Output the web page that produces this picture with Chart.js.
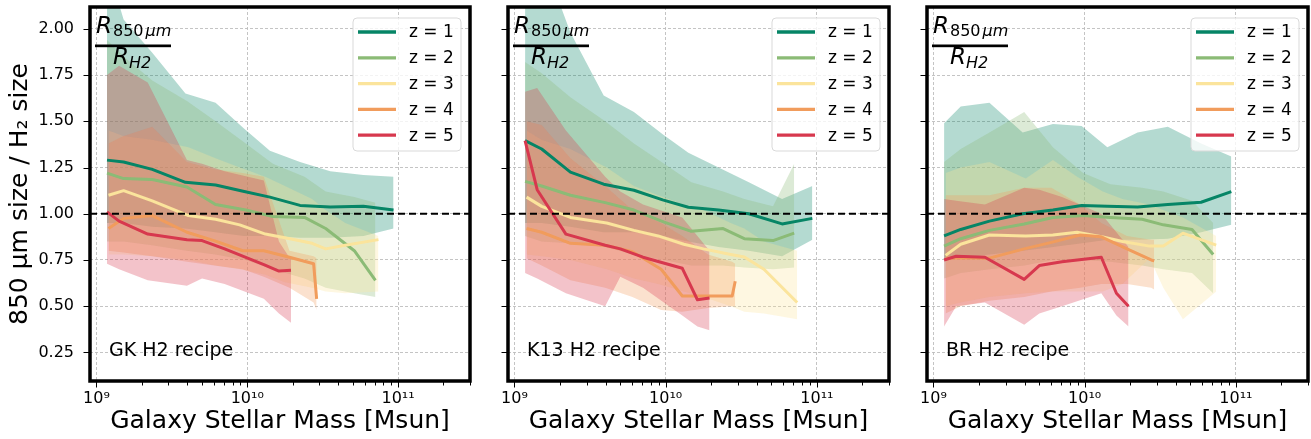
<!DOCTYPE html>
<html>
<head>
<meta charset="utf-8">
<script src="https://cdn.jsdelivr.net/npm/chart.js@4.4.0/dist/chart.umd.min.js"></script>
<style>
  html, body { margin: 0; padding: 0; background: #fff; }
  #wrap { position: relative; width: 1311px; height: 439px; overflow: hidden; }
  canvas { position: absolute; top: 0; }
</style>
</head>
<body>
<div id="wrap">
  <canvas id="chart-gk" width="476" height="439" style="left:0px"></canvas>
  <canvas id="chart-k13" width="419" height="439" style="left:476px"></canvas>
  <canvas id="chart-br" width="416" height="439" style="left:895px"></canvas>
</div>
<script>
// ---- Data (log10 stellar mass bins, ratio R850 / RH2) ----
const zLabels = ['z = 1', 'z = 2', 'z = 3', 'z = 4', 'z = 5'];
const lineColors = ['#068566', '#8bbb76', '#fbe49c', '#f19c5c', '#d7384e'];

const massBins = [
  [9.07, 9.18, 9.37, 9.59, 9.79, 9.98, 10.15, 10.35, 10.55, 10.77, 10.97],
  [9.07, 9.18, 9.37, 9.60, 9.79, 9.99, 10.17, 10.38, 10.52, 10.71, 10.85],
  [9.08, 9.18, 9.37, 9.61, 9.79, 9.95, 10.12, 10.25, 10.43, 10.52, 10.65, 10.87],
  [9.08, 9.18, 9.37, 9.60, 9.78, 9.97, 10.11, 10.28, 10.44, 10.46],
  [9.07, 9.15, 9.34, 9.60, 9.70, 9.85, 10.11, 10.21, 10.29]
];

// GK H2 recipe
const gkMedian = [
  [1.29, 1.28, 1.24, 1.17, 1.155, 1.12, 1.09, 1.045, 1.037, 1.04, 1.02],
  [1.22, 1.19, 1.185, 1.145, 1.05, 1.02, 0.985, 0.98, 0.92, 0.80, 0.64],
  [1.10, 1.125, 1.07, 0.99, 0.97, 0.94, 0.89, 0.87, 0.84, 0.81, 0.83, 0.86],
  [0.92, 0.975, 0.99, 0.90, 0.855, 0.80, 0.80, 0.765, 0.73, 0.54],
  [1.01, 0.96, 0.89, 0.86, 0.855, 0.81, 0.725, 0.69, 0.695]
];
const gkHigh = [
  [2.35, 2.05, 1.87, 1.65, 1.60, 1.46, 1.34, 1.28, 1.23, 1.21, 1.20],
  [1.94, 1.85, 1.72, 1.61, 1.50, 1.38, 1.27, 1.20, 1.12, 1.09, 1.06],
  [1.45, 1.42, 1.40, 1.36, 1.30, 1.25, 1.20, 1.15, 1.08, 1.02, 0.95, 0.88],
  [1.38, 1.42, 1.47, 1.28, 1.24, 1.22, 1.20, 0.80, 0.77, 0.76],
  [1.75, 1.80, 1.71, 1.29, 1.27, 1.23, 1.18, 0.85, 0.75]
];
const gkLow = [
  [0.95, 0.95, 0.93, 0.92, 0.90, 0.88, 0.88, 0.87, 0.87, 0.88, 0.92],
  [0.85, 0.85, 0.83, 0.80, 0.78, 0.75, 0.70, 0.65, 0.60, 0.57, 0.55],
  [0.78, 0.78, 0.77, 0.75, 0.72, 0.70, 0.67, 0.63, 0.60, 0.58, 0.57, 0.58],
  [0.80, 0.79, 0.77, 0.74, 0.72, 0.70, 0.66, 0.60, 0.52, 0.48],
  [0.73, 0.70, 0.64, 0.61, 0.65, 0.62, 0.54, 0.46, 0.41]
];

// K13 H2 recipe
const k13Median = [
  [1.395, 1.35, 1.225, 1.16, 1.127, 1.075, 1.035, 1.02, 1.0, 0.945, 0.975],
  [1.175, 1.15, 1.10, 1.06, 1.02, 0.955, 0.905, 0.92, 0.865, 0.855, 0.895],
  [1.09, 1.04, 0.98, 0.95, 0.91, 0.88, 0.835, 0.81, 0.78, 0.766, 0.70, 0.52],
  [0.92, 0.90, 0.84, 0.83, 0.795, 0.70, 0.555, 0.555, 0.555, 0.635],
  [1.395, 1.13, 0.89, 0.83, 0.81, 0.765, 0.705, 0.535, 0.545]
];
const k13High = [
  [2.6, 2.4, 1.98, 1.64, 1.55, 1.43, 1.33, 1.25, 1.17, 1.08, 1.15],
  [1.82, 1.76, 1.63, 1.50, 1.38, 1.27, 1.17, 1.12, 1.08, 1.04, 1.27],
  [1.45, 1.40, 1.35, 1.25, 1.15, 1.10, 1.05, 1.02, 0.95, 0.92, 0.85, 0.80],
  [1.50, 1.48, 1.30, 1.15, 1.02, 0.95, 0.88, 0.78, 0.74, 0.73],
  [1.66, 1.68, 1.45, 1.20, 1.12, 1.05, 0.98, 0.88, 0.80]
];
const k13Low = [
  [0.95, 0.95, 0.93, 0.90, 0.90, 0.88, 0.85, 0.82, 0.80, 0.77, 0.86],
  [0.88, 0.85, 0.84, 0.82, 0.78, 0.75, 0.72, 0.72, 0.71, 0.70, 0.71],
  [0.78, 0.77, 0.75, 0.70, 0.65, 0.62, 0.58, 0.55, 0.50, 0.47, 0.46, 0.43],
  [0.76, 0.72, 0.64, 0.60, 0.55, 0.48, 0.47, 0.49, 0.50, 0.50],
  [0.68, 0.65, 0.57, 0.50, 0.66, 0.60, 0.45, 0.39, 0.37]
];

// BR H2 recipe
const brMedian = [
  [0.88, 0.915, 0.96, 1.0, 1.02, 1.045, 1.04, 1.037, 1.05, 1.062, 1.12],
  [0.825, 0.865, 0.91, 0.945, 0.98, 0.99, 0.98, 0.97, 0.94, 0.915, 0.78],
  [0.775, 0.835, 0.885, 0.88, 0.885, 0.90, 0.875, 0.85, 0.825, 0.825, 0.895, 0.83],
  [0.76, 0.762, 0.76, 0.81, 0.845, 0.885, 0.875, 0.81, 0.75, 0.745],
  [0.75, 0.77, 0.765, 0.645, 0.72, 0.74, 0.765, 0.57, 0.50]
];
const brHigh = [
  [1.49, 1.58, 1.60, 1.44, 1.485, 1.475, 1.36, 1.44, 1.47, 1.38, 1.31],
  [1.28, 1.35, 1.44, 1.55, 1.36, 1.22, 1.16, 1.14, 1.12, 1.07, 0.95],
  [1.22, 1.25, 1.28, 1.19, 1.29, 1.20, 1.12, 1.08, 1.05, 1.02, 0.98, 0.88],
  [1.10, 1.10, 1.10, 1.14, 1.14, 1.05, 0.95, 0.88, 0.86, 0.86],
  [1.08, 1.07, 1.05, 1.14, 1.13, 1.09, 1.00, 0.90, 0.82]
];
const brLow = [
  [0.75, 0.76, 0.78, 0.80, 0.82, 0.84, 0.86, 0.86, 0.865, 0.90, 0.94],
  [0.65, 0.68, 0.70, 0.72, 0.75, 0.75, 0.74, 0.72, 0.70, 0.68, 0.57],
  [0.50, 0.52, 0.55, 0.57, 0.58, 0.58, 0.58, 0.62, 0.76, 0.60, 0.43, 0.58],
  [0.46, 0.50, 0.53, 0.55, 0.58, 0.60, 0.62, 0.62, 0.60, 0.59],
  [0.39, 0.50, 0.52, 0.40, 0.46, 0.50, 0.57, 0.45, 0.39]
];

// ---- Axes ----
const xMin = 9.06e8, xMax = 3.0e11;
const yMin = 0.0956, yMax = 2.118;
const yTicks = [0.25, 0.50, 0.75, 1.00, 1.25, 1.50, 1.75, 2.00];
const xTicks = [1e9, 2e9, 3e9, 4e9, 5e9, 6e9, 7e9, 8e9, 9e9,
                1e10, 2e10, 3e10, 4e10, 5e10, 6e10, 7e10, 8e10, 9e10,
                1e11, 2e11, 3e11];

Chart.defaults.font.family = '"DejaVu Sans", sans-serif';
Chart.defaults.color = '#000';

const GRID = '#bdbdbd';
const SUP = '⁰¹²³⁴⁵⁶⁷⁸⁹';
const isDecade = v => Math.abs(Math.log10(v) - Math.round(Math.log10(v))) < 1e-6;
const powLabel = v => '10' + String(Math.round(Math.log10(v))).split('').map(d => SUP[+d]).join('');

function hexA(hex, a) {
  const n = parseInt(hex.slice(1), 16);
  return `rgba(${(n >> 16) & 255},${(n >> 8) & 255},${n & 255},${a})`;
}

// ---- Plugins ----
const ticksAndFrame = {
  id: 'ticksAndFrame',
  afterDatasetsDraw(chart) {
    const { ctx, chartArea: a, scales: { x, y } } = chart;
    ctx.save();
    ctx.strokeStyle = '#000';
    ctx.lineWidth = 1;
    ctx.beginPath();
    x.ticks.forEach(t => {
      const px = Math.round(x.getPixelForValue(t.value)) + 0.5;
      ctx.moveTo(px, a.bottom);
      ctx.lineTo(px, a.bottom + (t.major ? 6.5 : 4.5));
    });
    y.ticks.forEach(t => {
      const py = Math.round(y.getPixelForValue(t.value)) + 0.5;
      ctx.moveTo(a.left, py);
      ctx.lineTo(a.left - 6.5, py);
    });
    ctx.stroke();
    ctx.lineWidth = 3.5;
    ctx.strokeRect(a.left, a.top, a.right - a.left, a.bottom - a.top);
    ctx.restore();
  }
};

const panelText = {
  id: 'panelText',
  afterDraw(chart, args, opts) {
    const { ctx, chartArea: a } = chart;
    ctx.save();
    ctx.fillStyle = '#000';
    ctx.textAlign = 'left';
    ctx.textBaseline = 'alphabetic';

    // R_850um / R_H2
    let x = a.left + 6;
    ctx.font = 'italic 23px "DejaVu Sans"';
    ctx.fillText('R', x, a.top + 26);
    x += ctx.measureText('R').width + 1;
    ctx.font = '16px "DejaVu Sans"';
    ctx.fillText('850', x, a.top + 29);
    x += ctx.measureText('850').width + 2;
    ctx.font = 'italic 16px "DejaVu Sans"';
    ctx.fillText('μm', x, a.top + 29);
    ctx.fillRect(a.left + 5, a.top + 37.5, 76, 2.7);
    x = a.left + 23;
    ctx.font = 'italic 23px "DejaVu Sans"';
    ctx.fillText('R', x, a.top + 57);
    x += ctx.measureText('R').width;
    ctx.font = 'italic 16px "DejaVu Sans"';
    ctx.fillText('H2', x, a.top + 61);

    // recipe label
    ctx.font = '19px "DejaVu Sans"';
    ctx.fillText(opts.recipe, a.left + 19, a.bottom - 25);

    // legend box
    const bw = 108, bh = 133;
    const bx = a.right - 9 - bw, by = a.top + 11;
    ctx.beginPath();
    ctx.roundRect(bx, by, bw, bh, 4);
    ctx.fillStyle = 'rgba(255,255,255,0.8)';
    ctx.fill();
    ctx.strokeStyle = '#d9d9d9';
    ctx.lineWidth = 1;
    ctx.stroke();
    ctx.textBaseline = 'middle';
    ctx.font = '17px "DejaVu Sans"';
    zLabels.forEach((lab, i) => {
      const ly = by + 14 + i * 25.8;
      ctx.strokeStyle = lineColors[i];
      ctx.lineWidth = 3.3;
      ctx.beginPath();
      ctx.moveTo(bx + 5, ly);
      ctx.lineTo(bx + 43, ly);
      ctx.stroke();
      ctx.fillStyle = '#000';
      ctx.fillText(lab, bx + 56, ly + 1);
    });
    ctx.restore();
  }
};

// ---- Panel builder ----
function makePanel(id, recipe, median, low, high, showY, yWidth, padRight) {
  const datasets = [];
  median.forEach((vals, z) => {
    const xs = massBins[z].map(m => Math.pow(10, m));
    datasets.push({
      data: xs.map((v, i) => ({ x: v, y: low[z][i] })),
      borderWidth: 0, borderColor: 'transparent', pointRadius: 0,
      fill: false, order: 30 - z
    });
    datasets.push({
      data: xs.map((v, i) => ({ x: v, y: high[z][i] })),
      borderWidth: 0, borderColor: 'transparent', pointRadius: 0,
      backgroundColor: hexA(lineColors[z], 0.3),
      fill: '-1', order: 30 - z
    });
  });
  median.forEach((vals, z) => {
    const xs = massBins[z].map(m => Math.pow(10, m));
    datasets.push({
      label: zLabels[z],
      data: xs.map((v, i) => ({ x: v, y: vals[i] })),
      borderColor: lineColors[z], borderWidth: 3,
      borderJoinStyle: 'round', borderCapStyle: 'butt',
      pointRadius: 0, fill: false, tension: 0, order: 10 - z
    });
  });
  datasets.push({
    data: [{ x: xMin, y: 1 }, { x: xMax, y: 1 }],
    borderColor: '#000', borderWidth: 1.8, borderDash: [7, 4],
    pointRadius: 0, fill: false, order: 0
  });

  return new Chart(document.getElementById(id), {
    type: 'line',
    data: { datasets },
    options: {
      responsive: false,
      animation: false,
      events: [],
      layout: { padding: { top: 7, right: padRight, left: 0, bottom: 0 } },
      plugins: {
        legend: { display: false },
        tooltip: { enabled: false },
        filler: { drawTime: 'beforeDatasetsDraw' },
        panelText: { recipe }
      },
      scales: {
        x: {
          type: 'logarithmic',
          min: xMin, max: xMax,
          afterBuildTicks: ax => { ax.ticks = xTicks.map(v => ({ value: v, major: isDecade(v) })); },
          afterFit: ax => { ax.height = 58; ax.paddingLeft = 0; ax.paddingRight = 0; },
          grid: {
            color: c => (c.tick && isDecade(c.tick.value)) ? GRID : 'rgba(0,0,0,0)',
            lineWidth: 0.9, drawTicks: false
          },
          border: { display: false, dash: [3, 2] },
          ticks: {
            autoSkip: false, maxRotation: 0, padding: 8,
            font: { size: 16 },
            callback: v => isDecade(v) ? powLabel(v) : ''
          },
          title: {
            display: true, text: 'Galaxy Stellar Mass [Msun]',
            font: { size: 25 }, padding: { top: 0, bottom: 3 }
          }
        },
        y: {
          type: 'linear',
          min: yMin, max: yMax,
          afterBuildTicks: ax => { ax.ticks = yTicks.map(v => ({ value: v })); },
          afterFit: ax => { ax.width = yWidth; ax.paddingTop = 0; ax.paddingBottom = 0; },
          grid: { color: GRID, lineWidth: 0.9, drawTicks: false },
          border: { display: false, dash: [3, 2] },
          ticks: {
            display: showY, padding: 16,
            font: { size: 16 },
            callback: v => v.toFixed(2)
          },
          title: {
            display: showY, text: '850 μm size / H₂ size',
            font: { size: 25 }, padding: { top: 5, bottom: 0 }
          }
        }
      }
    },
    plugins: [ticksAndFrame, panelText]
  });
}

makePanel('chart-gk', 'GK H2 recipe', gkMedian, gkLow, gkHigh, true, 90, 6);
makePanel('chart-k13', 'K13 H2 recipe', k13Median, k13Low, k13High, false, 32, 6);
makePanel('chart-br', 'BR H2 recipe', brMedian, brLow, brHigh, false, 32, 3);
</script>
</body>
</html>
